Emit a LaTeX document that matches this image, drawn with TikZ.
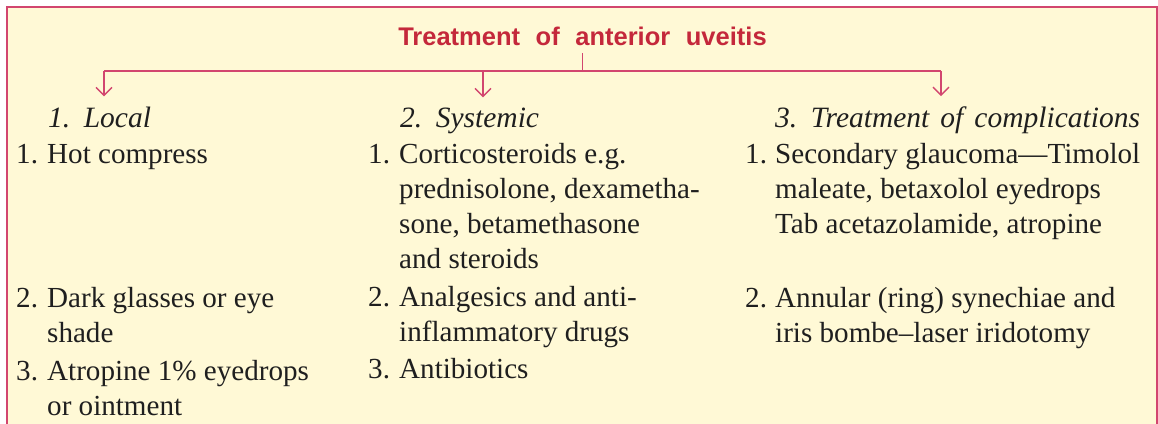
\documentclass[tikz,border=0pt]{standalone}
\usepackage{fontspec}
\setmainfont{Liberation Serif}
\newfontfamily\headfont[WordSpace=2.2]{Liberation Sans}
\newfontfamily\subfont[WordSpace=1.5]{Liberation Serif}
\usetikzlibrary{arrows.meta,positioning}
\definecolor{boxfill}{HTML}{FFF9D6}
\definecolor{boxline}{HTML}{D2466F}
\definecolor{headred}{HTML}{C4283B}

\begin{document}
\begin{tikzpicture}[x=1pt,y=-1pt,
  item/.style={anchor=base west,inner sep=0pt,align=left,text=black!88,
    font=\fontsize{29.1}{35.3}\selectfont},
  num/.style={item},
  sub/.style={anchor=base west,inner xsep=0pt,inner ysep=10pt,text=black!88,
    font=\fontsize{29.5}{35}\selectfont\subfont\itshape},
  link/.style={boxline,line width=1.3pt},
  tip/.style={link,-{Straight Barb[length=8pt,width=16pt]}}]
\useasboundingbox (0,0) rectangle (1158,423);
\fill[boxfill] (7,7) rectangle (1157,440);
\draw[boxline,line width=1.5pt] (7,440)--(7,7)--(1157,7)--(1157,440);
\node[anchor=base,inner xsep=0pt,inner ysep=8pt,text=headred,
  font=\fontsize{25.5}{30}\selectfont\headfont\bfseries] (title) at (582.5,45)
  {Treatment of anterior uveitis};
\node[sub] (local) at (48,127) {1. Local};
\node[sub] (systemic) at (400,127) {2. Systemic};
\node[sub] (complic) at (775,127) {3. Treatment of complications};
\coordinate (barL) at (104,71);
\coordinate (barM) at (483,71);
\coordinate (barR) at (941,71);
\draw[link] (title.south) -- (title.south |- barL);
\draw[link] (barL) -- (barR);
\draw[tip] (barL) -- (barL |- local.north);
\draw[tip] (barM) -- (barM |- systemic.north);
\draw[tip] (barR) -- (barR |- complic.north);
% multi-line items sit on the baseline of their last line
\node[num] (l1n) at (16,163) {1.};
\node[item] (l1) at (47,163) {Hot compress};
\node[num] (l2n) at (16,307) {2.};
\node[item] (l2) at (47,342.3) {Dark glasses or eye\\shade};
\node[num] (l3n) at (16,380) {3.};
\node[item] (l3) at (47,415.3) {Atropine 1\% eyedrops\\or ointment};
\node[num] (s1n) at (368,163) {1.};
\node[item] (s1) at (399,268.9)
  {Corticosteroids e.g.\\prednisolone, dexametha-\\sone, betamethasone\\and steroids};
\node[num] (s2n) at (368,306) {2.};
\node[item] (s2) at (399,341.3) {Analgesics and anti-\\inflammatory drugs};
\node[num] (s3n) at (368,378) {3.};
\node[item] (s3) at (399,378) {Antibiotics};
\node[num] (c1n) at (745,163) {1.};
\node[item] (c1) at (775,233.6)
  {Secondary glaucoma---Timolol\\maleate, betaxolol eyedrops\\Tab acetazolamide, atropine};
\node[num] (c2n) at (745,307) {2.};
\node[item] (c2) at (775,342.3) {Annular (ring) synechiae and\\iris bombe--laser iridotomy};
\end{tikzpicture}
\end{document}
